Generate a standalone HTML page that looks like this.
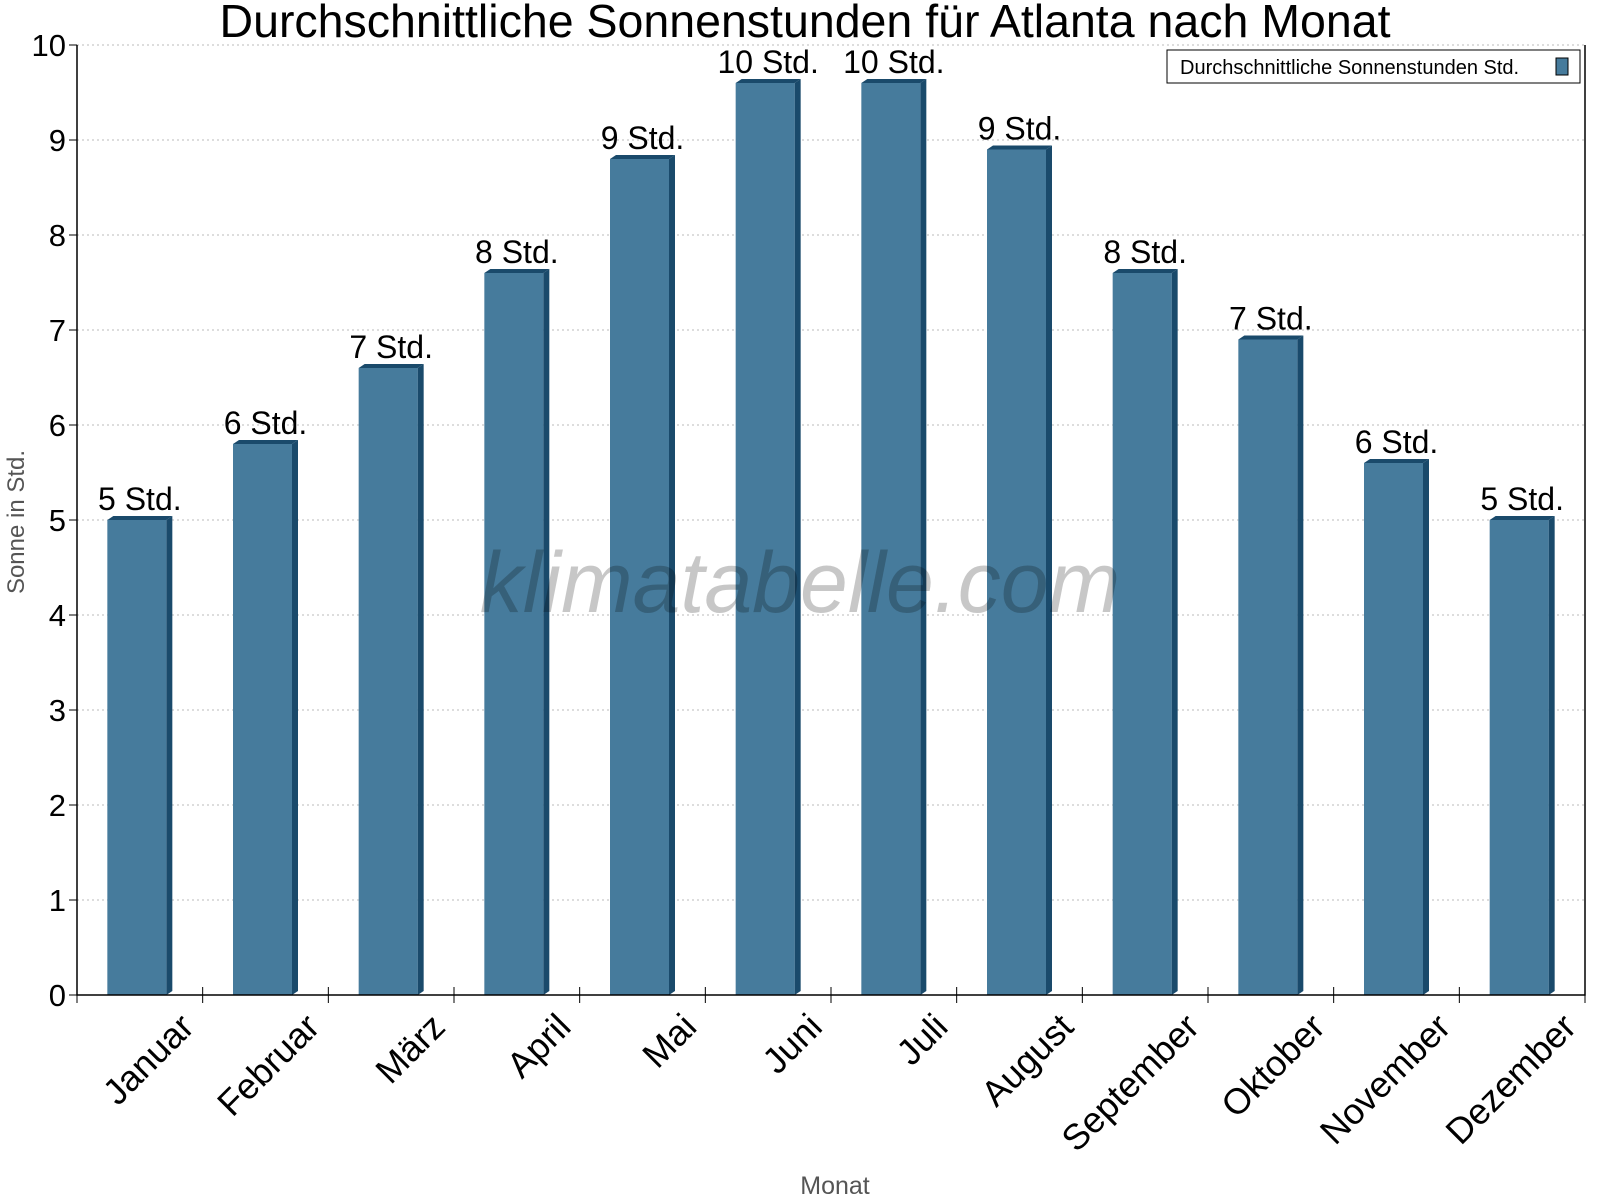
<!DOCTYPE html>
<html><head><meta charset="utf-8"><style>
body{margin:0;background:#fff;}
svg{display:block;font-family:"Liberation Sans",sans-serif;}
</style></head><body>
<svg id="c" width="1600" height="1200"></svg>
<script>
const months=["Januar","Februar","März","April","Mai","Juni","Juli","August","September","Oktober","November","Dezember"];
const values=[5.0,5.8,6.6,7.6,8.8,9.6,9.6,8.9,7.6,6.9,5.6,5.0];
const labels=["5 Std.","6 Std.","7 Std.","8 Std.","9 Std.","10 Std.","10 Std.","9 Std.","8 Std.","7 Std.","6 Std.","5 Std."];
const yTicks=[0,1,2,3,4,5,6,7,8,9,10];
const L=77,R=1585,T=45,B=995,NS="http://www.w3.org/2000/svg";
const svg=document.getElementById('c');
const y=v=>B-(B-T)*v/10;
const cw=(R-L)/months.length;
const xc=i=>L+cw*(i+0.5);
function el(t,a,txt){const e=document.createElementNS(NS,t);for(const k in a)e.setAttribute(k,a[k]);if(txt!==undefined)e.textContent=txt;svg.appendChild(e);return e;}
yTicks.forEach(v=>{
  if(v>0){const g=el('line',{x1:L,x2:R,y1:y(v),y2:y(v),stroke:'#bbb','stroke-dasharray':'2,3'});
  
  }
  const tk=el('line',{x1:L-8,x2:L,y1:y(v),y2:y(v),stroke:'#000'});
  
  
  const t=el('text',{x:L-11,y:y(v)+11,'font-size':31,'text-anchor':'end'},v);
  
  
});
months.forEach((m,i)=>{
  const bw=59,sd=6,x0=xc(i)-bw/2-3,yt=y(values[i]);
  const side=el('polygon',{points:`${x0+bw},${yt} ${x0+bw+sd},${yt-4} ${x0+bw+sd},${B-4} ${x0+bw},${B}`,fill:'#1a4a6b'});
  
  
  const top=el('polygon',{points:`${x0},${yt} ${x0+sd},${yt-4} ${x0+bw+sd},${yt-4} ${x0+bw},${yt}`,fill:'#1a4a6b'});
  
  
  const b=el('rect',{x:x0,y:yt,width:bw,height:B-yt,fill:'#467b9c'});
  
  
  const lt=el('text',{x:xc(i),y:yt-10,'font-size':32,'text-anchor':'middle'},labels[i]);
  
  
  const tk=el('line',{x1:L+cw*(i+1),x2:L+cw*(i+1),y1:B-8,y2:B+8,stroke:'#000'});
  
  
  const xl=el('text',{x:xc(i)+56,y:B+34,'font-size':36,'text-anchor':'end',transform:`rotate(-45 ${xc(i)+56} ${B+34})`},m);
  
  
});
const w=el('text',{x:800,y:612,'font-size':86,'font-style':'italic','text-anchor':'middle',fill:'#000','fill-opacity':0.22},'klimatabelle.com');


const t0=el('line',{x1:L,x2:L,y1:B,y2:B+8,stroke:'#000'});


const ax=el('path',{d:`M${L},${T} V${B} H${R} V${T}`,fill:'none',stroke:'#000','stroke-width':1.5});


const ti=el('text',{x:805,y:37,'font-size':46.5,'text-anchor':'middle'},'Durchschnittliche Sonnenstunden für Atlanta nach Monat');


const yt=el('text',{x:24,y:522,'font-size':24,fill:'#555','text-anchor':'middle',transform:'rotate(-90 24 522)'},'Sonne in Std.');


const xt=el('text',{x:835,y:1194,'font-size':25,fill:'#555','text-anchor':'middle'},'Monat');


const lg=el('rect',{x:1167,y:50,width:413,height:33,fill:'#fff',stroke:'#000'});


const lgt=el('text',{x:1180,y:74,'font-size':20},'Durchschnittliche Sonnenstunden Std.');


const lgs=el('rect',{x:1556,y:58,width:12,height:17,fill:'#467b9c',stroke:'#000'});


</script>
</body></html>
